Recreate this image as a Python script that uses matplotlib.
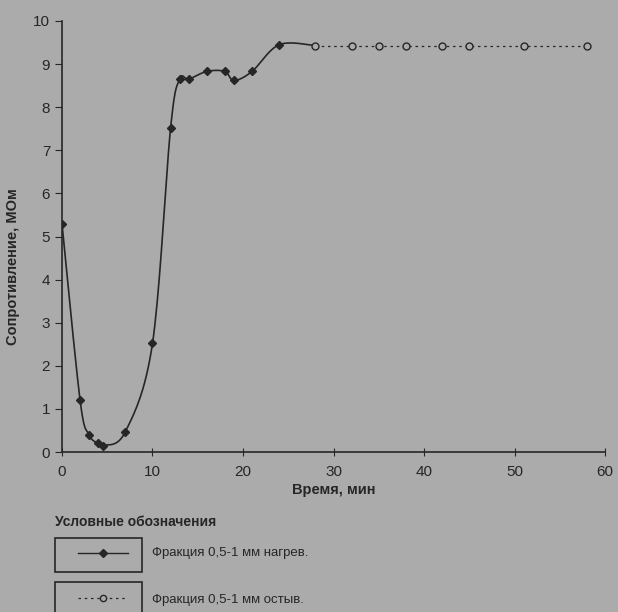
import numpy as np
import matplotlib
matplotlib.use('Agg')
import matplotlib.pyplot as plt
from matplotlib.patches import Rectangle
from matplotlib.lines import Line2D

plt.rcParams['font.family'] = ['Liberation Sans', 'DejaVu Sans']

# нагрев
t_heat = [0, 2, 3, 4, 4.5, 7, 10, 12, 13, 14, 16, 18, 19, 21, 24, 28]
r_heat = [5.3, 1.2, 0.4, 0.2, 0.15, 0.47, 2.52, 7.52, 8.65, 8.65, 8.83, 8.83, 8.62, 8.83, 9.45, 9.43]
# остывание
t_cool = [28, 32, 35, 38, 42, 45, 51, 58]
r_cool = [9.43, 9.43, 9.43, 9.43, 9.43, 9.43, 9.43, 9.43]

xticks = [0, 10, 20, 30, 40, 50, 60]
yticks = list(range(0, 11))

bg = '#ababab'
ink = '#262626'


def smooth(x, y, n=20):
    # сглаживание как в Excel (Catmull-Rom)
    x = np.asarray(x, float)
    y = np.asarray(y, float)
    px = np.concatenate([[x[0]], x, [x[-1]]])
    py = np.concatenate([[y[0]], y, [y[-1]]])
    xs, ys = [], []
    s = np.linspace(0, 1, n)
    for i in range(1, len(px) - 2):
        for p, out in ((px, xs), (py, ys)):
            p0, p1, p2, p3 = p[i - 1], p[i], p[i + 1], p[i + 2]
            c = 0.5 * (2 * p1 + (-p0 + p2) * s + (2 * p0 - 5 * p1 + 4 * p2 - p3) * s ** 2
                       + (-p0 + 3 * p1 - 3 * p2 + p3) * s ** 3)
            out.extend(c)
    return np.array(xs), np.array(ys)


fig = plt.figure(figsize=(6.18, 6.12), dpi=100, facecolor=bg)
ax = fig.add_axes([0.1003, 0.2614, 0.8787, 0.7043])
ax.set_facecolor(bg)

sx, sy = smooth(t_heat, r_heat)
ax.plot(sx, sy, color=ink, lw=1.2)
ax.plot(t_heat[:-1], r_heat[:-1], ls='none', marker='D', ms=4.5, color=ink)
ax.plot(t_cool, r_cool, ls=(0, (2, 3)), color=ink, lw=0.9,
        marker='o', ms=5, mfc=bg, mec=ink, mew=1.0)

ax.set_xlim(0, 60)
ax.set_ylim(0, 10)
ax.set_xticks(xticks)
ax.set_yticks(yticks)
for s in ['top', 'right']:
    ax.spines[s].set_visible(False)
for s in ['left', 'bottom']:
    ax.spines[s].set_color(ink)
    ax.spines[s].set_linewidth(1.2)
ax.tick_params(axis='x', direction='inout', length=6, colors=ink, labelsize=11, pad=6)
ax.tick_params(axis='y', direction='out', length=5, colors=ink, labelsize=11)

ax.set_xlabel('Время, мин', fontsize=10.5, fontweight='bold', color=ink, labelpad=3)
ax.set_ylabel('Сопротивление, МОм', fontsize=10.5, fontweight='bold', color=ink)
ax.yaxis.set_label_coords(-0.077, 0.43)

# условные обозначения
W, H = 618, 612
fig.text(55 / W, 1 - 522 / H, 'Условные обозначения', fontsize=10, fontweight='bold',
         color=ink, va='center')
boxes = [(538, 572, 553), (582, 618, 598)]
for (y0, y1, yl) in boxes:
    fig.patches.append(Rectangle((55 / W, 1 - y1 / H), 87 / W, (y1 - y0) / H,
                                 transform=fig.transFigure, fill=False,
                                 ec=ink, lw=1.2))
fig.add_artist(Line2D([78 / W, 128 / W], [1 - 553 / H] * 2, color=ink, lw=1.0))
fig.add_artist(Line2D([103 / W], [1 - 553 / H], marker='D', ms=4.5, color=ink))
fig.add_artist(Line2D([78 / W, 128 / W], [1 - 598 / H] * 2, color=ink, lw=0.9,
                      ls=(0, (2, 3))))
fig.add_artist(Line2D([103 / W], [1 - 598 / H], marker='o', ms=4.5, mfc=bg, mec=ink))
fig.text(152 / W, 1 - 553 / H, 'Фракция 0,5-1 мм нагрев.', fontsize=9.5, color=ink, va='center')
fig.text(152 / W, 1 - 600 / H, 'Фракция 0,5-1 мм остыв.', fontsize=9.5, color=ink, va='center')

fig.savefig('out.png', dpi=100, facecolor=bg)
